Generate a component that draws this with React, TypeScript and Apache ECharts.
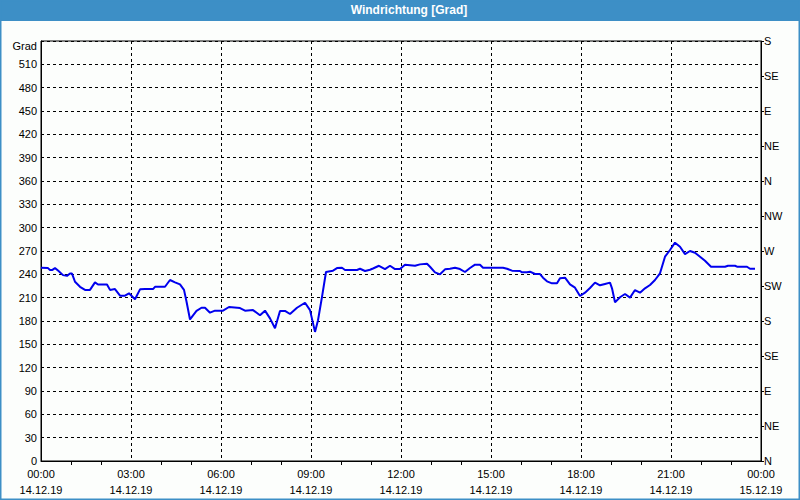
import React, { useEffect, useRef } from "react";
import * as echarts from "echarts";

const times = [
  "00:00","00:14","00:18","00:22","00:28","00:34","00:44","00:52","00:58","01:02",
  "01:08","01:18","01:28","01:38","01:48","01:54","02:12","02:18","02:28","02:38",
  "02:48","02:56","03:08","03:18","03:28","03:44","03:48","04:08","04:18","04:28",
  "04:38","04:46","04:51","04:58","05:11","05:21","05:28","05:38","05:48","06:04",
  "06:16","06:38","06:48","07:04","07:18","07:28","07:38","07:48","07:58","08:08",
  "08:18","08:32","08:48","08:58","09:08","09:14","09:22","09:30","09:44","09:52",
  "10:02","10:08","10:32","10:38","10:48","10:58","11:04","11:16","11:28","11:38",
  "11:48","11:58","12:08","12:28","12:38","12:52","12:58","13:08","13:18","13:28",
  "13:38","13:48","13:58","14:08","14:18","14:28","14:38","14:44","15:24","15:32",
  "15:42","15:58","16:02","16:12","16:18","16:28","16:38","16:44","16:52","17:02",
  "17:12","17:18","17:28","17:38","17:48","17:58","18:08","18:18","18:28","18:38",
  "18:48","18:58","19:02","19:08","19:18","19:28","19:38","19:48","19:58","20:08",
  "20:18","20:28","20:38","20:48","20:58","21:08","21:18","21:28","21:38","21:48",
  "21:58","22:08","22:20","22:48","22:54","23:08","23:12","23:32","23:38","23:48"
];

const windDirection = [
  248.5,248,245.5,245.5,248,245,239,238,241,241,
  230.5,224,220,220,229.7,227,227,220,221,212.5,
  212.5,215.6,208,220.7,221,221,224,224,232.7,229.7,
  227,220,205,182,192.9,197,197,190.7,193.3,193.3,
  198,196.7,193.3,194,187.3,193.3,183.4,170.6,192.9,193,
  189,197,203.5,194,166,181,211,243,244.7,248,
  248.5,245.6,245.6,247.2,244.3,245.9,247.5,251,246.8,251,
  246.8,246.8,252.4,251,252.8,253.7,249.8,242.6,240,246.4,
  247.2,248.5,246.8,243,248.1,252.4,252.4,248.5,248.5,247.2,
  244.7,244.3,242.6,242.6,243.4,240.4,240.4,235.7,231,228.4,
  228.4,234.9,235.7,227,222.8,212.1,216.4,222.4,229.3,225.9,
  227.6,229.3,222,204,210.5,214.7,210,219.8,216.4,222,
  226.3,232.7,241.3,262.7,271.3,280.7,275.5,266,270,267.8,
  262.7,257.5,249.8,249.8,251,251,249.8,249.8,247.2,247.2
];

const tickTimes = ["00:00","03:00","06:00","09:00","12:00","15:00","18:00","21:00","00:00"];
const tickDates = ["14.12.19","14.12.19","14.12.19","14.12.19","14.12.19","14.12.19","14.12.19","14.12.19","15.12.19"];
const compassLabels = ["N","NE","E","SE","S","SW","W","NW","N","NE","E","SE","S"];

const toMinutes = (t: string) => {
  const [h, m] = t.split(":").map(Number);
  return h * 60 + m;
};

const FONT = "'Liberation Sans', Arial, sans-serif";
const BLUE = "#3d8fc6";

export default function App() {
  const ref = useRef<HTMLDivElement>(null);
  useEffect(() => {
    if (!ref.current) return;
    const chart = echarts.init(ref.current, undefined, { renderer: "svg" });
    const data = times.map((t, i) => [toMinutes(t), windDirection[i]]);
    chart.setOption({
      animation: false,
      backgroundColor: "#fcfefc",
      title: {
        text: "Windrichtung [Grad]",
        left: 409,
        top: 4,
        textAlign: "center",
        textStyle: { color: "#ffffff", fontSize: 12, fontWeight: "bold", fontFamily: FONT },
        padding: 0,
      },
      graphic: [
        {
          type: "rect",
          z: -10,
          silent: true,
          shape: { x: 0, y: 0, width: 800, height: 21 },
          style: { fill: BLUE },
        },
        {
          type: "rect",
          z: 100,
          silent: true,
          shape: { x: 0.5, y: 0.5, width: 799, height: 499 },
          style: { fill: "none", stroke: BLUE, lineWidth: 2 },
        },
      ],
      grid: {
        left: 41,
        top: 41,
        width: 720,
        height: 420,
        show: true,
        borderColor: "#000",
        borderWidth: 1,
        backgroundColor: "#fcfefc",
      },
      xAxis: {
        type: "value",
        min: 0,
        max: 1440,
        interval: 180,
        axisLine: { show: true, lineStyle: { color: "#000", width: 1 } },
        axisTick: { show: false },
        minorTick: { show: true, splitNumber: 3, length: 4, lineStyle: { color: "#000" } },
        splitLine: { show: true, lineStyle: { color: "#000", type: [3, 3], width: 1 } },
        axisLabel: {
          margin: 5,
          color: "#000",
          fontSize: 11,
          fontFamily: FONT,
          lineHeight: 16,
          showMaxLabel: true,
          showMinLabel: true,
          formatter: (v: number) => {
            const i = Math.round(v / 180);
            return tickTimes[i] + "\n" + tickDates[i];
          },
        },
      },
      yAxis: [
        {
          type: "value",
          min: 0,
          max: 540,
          interval: 30,
          position: "left",
          axisLine: { show: true, lineStyle: { color: "#000" } },
          axisTick: { show: false },
          splitLine: { show: true, lineStyle: { color: "#000", type: [3, 3], width: 1 } },
          axisLabel: {
            margin: 4,
            color: "#000",
            fontSize: 11,
            fontFamily: FONT,
            formatter: (v: number) => (v === 540 ? "{g|Grad}" : String(v)),
            rich: {
              g: { fontSize: 11, fontFamily: FONT, color: "#000", padding: [10, 0, 0, 0] },
            },
          },
        },
        {
          type: "value",
          min: 0,
          max: 540,
          interval: 45,
          position: "right",
          axisLine: { show: true, lineStyle: { color: "#000" } },
          axisTick: { show: true, length: 3, lineStyle: { color: "#000" } },
          splitLine: { show: false },
          axisLabel: {
            margin: 3,
            color: "#000",
            fontSize: 11,
            fontFamily: FONT,
            formatter: (v: number) => compassLabels[Math.round(v / 45)],
          },
        },
      ],
      series: [
        {
          type: "line",
          data,
          yAxisIndex: 0,
          showSymbol: false,
          symbol: "none",
          lineStyle: { color: "#0000ee", width: 2 },
        },
      ],
    });
    return () => chart.dispose();
  }, []);
  return (
    <div
      ref={ref}
      style={{ position: "fixed", left: 0, top: 0, width: 800, height: 500 }}
    />
  );
}
